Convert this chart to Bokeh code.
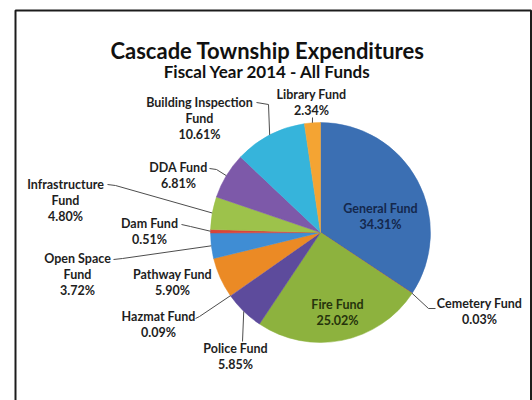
import math
from bokeh.plotting import figure
from bokeh.models import Range1d, ColumnDataSource
from bokeh.core.properties import value
from bokeh.embed import file_html
from bokeh.resources import INLINE

# ---- data ----
categories = ["General Fund", "Cemetery Fund", "Fire Fund", "Police Fund", "Hazmat Fund",
              "Pathway Fund", "Open Space Fund", "Dam Fund", "Infrastructure Fund",
              "DDA Fund", "Building Inspection Fund", "Library Fund"]
shares = [34.31, 0.03, 25.02, 5.85, 0.09, 5.90, 3.72, 0.51, 4.80, 6.81, 10.61, 2.34]
title_text = "Cascade Township Expenditures"
subtitle_text = "Fiscal Year 2014 - All Funds"

# ---- styles / layout ----
colors = ["#3B6FB3", "#C0504D", "#8DB23E", "#5D4B9C", "#8064A2", "#EB8A25",
          "#3F8DD4", "#D9443A", "#9DC24B", "#7D59A9", "#36B4DB", "#F4A433"]
wrap = [False, False, False, False, False, False, True, False, True, False, True, False]
text_colors = ["#14284d", "#1e1e1e", "#26340c"] + ["#1e1e1e"] * 9
# first-line label centers (page px)
label_pos = [(380, 208), (479, 303), (337, 304), (235, 348), (158, 316), (172, 274),
             (77, 258), (149, 223), (65, 184), (178, 167), (199, 102), (311, 94)]
# leader elbow points (page px), leader starts at slice edge
leaders = [None, [(428, 308), (435, 308)], None, [(242, 341)], [(199, 316), (195, 318)],
           None, [(122, 258), (113, 259)], [(190, 226), (181, 224)],
           [(115, 185), (107, 184)], [(216, 169), (209, 168)],
           [(268, 104), (256, 102)], [(312, 117)]]

W, H = 532, 400
def X(px): return px
def Y(py): return H - py

CX, CY, R = 320, 232, 110
FONT = "Lato"
line_gap = 16

p = figure(width=W, height=H, output_backend="svg", toolbar_location=None,
           x_range=Range1d(0, W), y_range=Range1d(0, H),
           x_axis_type=None, y_axis_type=None, min_border=0)
p.outline_line_color = None
p.grid.visible = False
p.background_fill_color = "white"
p.border_fill_color = "white"

# outer chart border (left, top, right sides; bottom is off-page)
p.multi_line(xs=[[X(15), X(15), X(530.5), X(530.5)]], ys=[[Y(410), Y(10), Y(10), Y(410)]],
             line_color="#1c1c1c", line_width=2)

total = sum(shares)
starts, ends, mids = [], [], []
cum = 0.0
for s in shares:
    a0 = math.pi / 2 - 2 * math.pi * cum / total
    cum += s
    a1 = math.pi / 2 - 2 * math.pi * cum / total
    starts.append(a0); ends.append(a1); mids.append((a0 + a1) / 2)

src = ColumnDataSource(dict(start=starts, end=ends, color=colors, name=categories))
p.wedge(x=X(CX), y=Y(CY), radius=R, start_angle="start", end_angle="end",
        direction="clock", fill_color="color", line_color="color", line_width=0.5,
        source=src)

# leader lines
lx, ly = [], []
for m, pts in zip(mids, leaders):
    if pts is None:
        continue
    xs = [X(CX) + R * math.cos(m)] + [X(a) for a, b in pts]
    ys = [Y(CY) + R * math.sin(m)] + [Y(b) for a, b in pts]
    lx.append(xs); ly.append(ys)
p.multi_line(xs=lx, ys=ly, line_color="#4d4d4d", line_width=1)

# labels
tx, ty, tt, tc = [], [], [], []
for name, s, w, (px, py), col in zip(categories, shares, wrap, label_pos, text_colors):
    lines = name.rsplit(" ", 1) if w else [name]
    lines.append(f"{s:.2f}%")
    for i, t in enumerate(lines):
        tx.append(X(px)); ty.append(Y(py + i * line_gap)); tt.append(t); tc.append(col)
p.text(x=tx, y=ty, text=tt, text_color=tc, text_font=value(FONT), text_font_style="bold",
       text_font_size="12.5px", text_align="center", text_baseline="middle")

p.text(x=[X(267)], y=[Y(50)], text=[title_text], text_font=value(FONT),
       text_font_style="bold", text_font_size="22px", text_color="#111111",
       text_align="center", text_baseline="middle")
p.text(x=[X(267)], y=[Y(71)], text=[subtitle_text], text_font=value(FONT),
       text_font_style="bold", text_font_size="17px", text_color="#111111",
       text_align="center", text_baseline="middle")

open("out.html", "w").write(file_html(p, INLINE))
